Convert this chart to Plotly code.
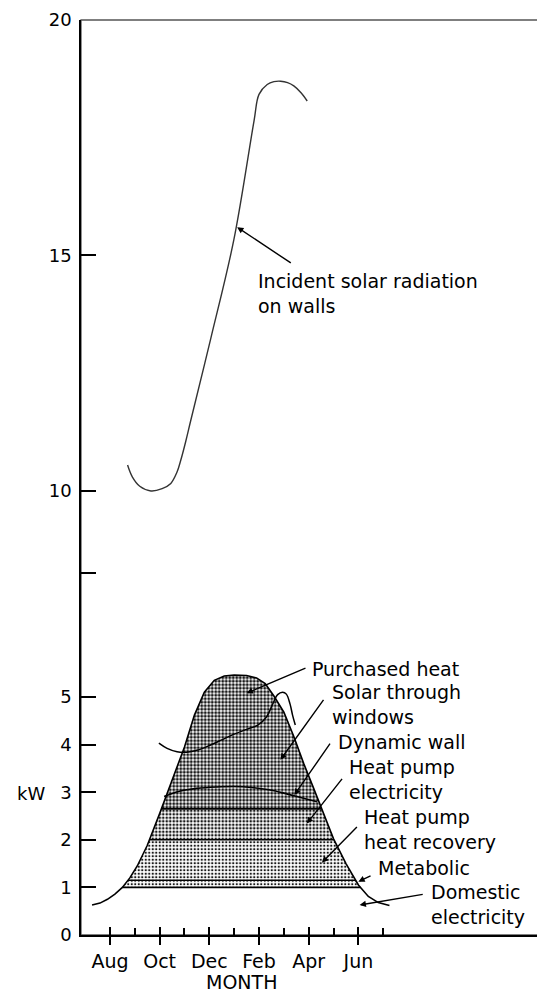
import numpy as np
import plotly.graph_objects as go

# ---------------- data (month index: Aug = 0, Sep = 1, ... Jul = 11) ----------------
month_ticks = [0, 2, 4, 6, 8, 10]
month_labels = ["Aug", "Oct", "Dec", "Feb", "Apr", "Jun"]
minor_month_ticks = [1, 3, 5, 7, 9, 11]

# total heat demand envelope (kW)
env_m = [-0.72, -0.4, -0.1, 0.2, 0.5, 0.8, 1.1, 1.5, 2.0, 2.5, 3.0, 3.4, 3.8, 4.2, 4.6,
         5.0, 5.5, 5.9, 6.25, 6.6, 7.0, 7.4, 7.8, 8.2, 8.6, 9.0, 9.5, 10.0, 10.4, 10.8, 11.25]
env_kw = [0.63, 0.67, 0.75, 0.86, 1.0, 1.2, 1.45, 1.88, 2.55, 3.24, 3.95, 4.62, 5.1, 5.35, 5.44,
          5.46, 5.45, 5.40, 5.28, 5.02, 4.68, 4.17, 3.6, 3.08, 2.55, 2.02, 1.5, 1.05, 0.81, 0.68, 0.62]

# contribution levels (kW): domestic electricity top, metabolic top, HP heat recovery top, HP electricity top
band_levels = [1.0, 1.15, 2.0, 2.65]

# dynamic wall contribution top
dyn_m = [2.18, 2.8, 3.5, 4.3, 5.0, 5.7, 6.4, 7.0, 7.6, 8.33]
dyn_kw = [2.91, 3.02, 3.08, 3.11, 3.12, 3.10, 3.05, 2.98, 2.90, 2.80]

# solar through windows top (purchased heat above)
win_m = [1.97, 2.3, 2.7, 3.1, 3.5, 4.0, 4.5, 5.0, 5.5, 5.95, 6.3, 6.55, 6.75, 6.95, 7.1, 7.25, 7.35, 7.46]
win_kw = [4.03, 3.92, 3.85, 3.84, 3.88, 3.98, 4.1, 4.22, 4.32, 4.41, 4.58, 4.85, 5.05, 5.1, 5.06, 4.85, 4.62, 4.41]

# incident solar radiation on walls (kW)
sol_m = [0.71, 0.9, 1.2, 1.65, 2.1, 2.45, 2.7, 2.85, 3.05, 3.25, 4.06, 4.99, 5.8, 6.0, 6.33, 6.6,
         6.87, 7.15, 7.4, 7.7, 7.94]
sol_kw = [10.55, 10.3, 10.1, 10.0, 10.05, 10.16, 10.4, 10.65, 11.05, 11.49, 13.24, 15.34, 17.86,
          18.42, 18.63, 18.69, 18.70, 18.67, 18.6, 18.45, 18.28]

FONT = "DejaVu Sans"
INK = "#000000"

# ---------------- helpers ----------------
def refine(xs, ys, levels):
    """insert the crossing points of the polyline with the given horizontal levels"""
    out_x, out_y = [], []
    for i in range(len(xs) - 1):
        x0, y0, x1, y1 = xs[i], ys[i], xs[i + 1], ys[i + 1]
        out_x.append(x0); out_y.append(y0)
        cr = []
        for L in levels:
            if (y0 - L) * (y1 - L) < 0:
                t = (L - y0) / (y1 - y0)
                cr.append((t, x0 + t * (x1 - x0), L))
        for c in sorted(cr):
            out_x.append(c[1]); out_y.append(c[2])
    out_x.append(xs[-1]); out_y.append(ys[-1])
    return np.array(out_x), np.array(out_y)

rx, ry = refine(env_m, env_kw, band_levels)

fig = go.Figure()

# stippled bands under the envelope
bands = list(zip(band_levels, band_levels[1:] + [99.0]))
solid = [0.3, 0.36, 0.46, 0.56]
for (a, b), s in zip(bands, solid):
    top = np.clip(ry, a, b)
    xs = np.concatenate([rx, rx[::-1]])
    ys = np.concatenate([top, np.full(len(rx), a)])
    fig.add_trace(go.Scatter(
        x=xs, y=ys, mode="lines", fill="toself", line=dict(width=0),
        fillcolor="white",
        fillpattern=dict(shape=".", size=3.5, solidity=s, fgcolor="#1a1a1a", bgcolor="white"),
        hoverinfo="skip", showlegend=False))

# horizontal level lines inside the envelope
for L in band_levels:
    inside = rx[ry >= L - 1e-9]
    fig.add_trace(go.Scatter(x=[inside.min(), inside.max()], y=[L, L], mode="lines",
                             line=dict(color=INK, width=1.6), hoverinfo="skip", showlegend=False))

# envelope
fig.add_trace(go.Scatter(x=env_m, y=env_kw, mode="lines", line=dict(color=INK, width=1.6),
                         hoverinfo="skip", showlegend=False))
# dynamic wall curve
fig.add_trace(go.Scatter(x=dyn_m, y=dyn_kw, mode="lines", line=dict(color=INK, width=1.6, shape="spline"),
                         hoverinfo="skip", showlegend=False))
# solar through windows curve
fig.add_trace(go.Scatter(x=win_m, y=win_kw, mode="lines", line=dict(color=INK, width=1.5, shape="spline"),
                         hoverinfo="skip", showlegend=False))
# incident solar radiation (upper axis)
fig.add_trace(go.Scatter(x=sol_m, y=sol_kw, yaxis="y2", mode="lines",
                         line=dict(color="#333333", width=1.4, shape="spline"),
                         hoverinfo="skip", showlegend=False))
# helper for crossing major ticks
fig.add_trace(go.Scatter(x=[None], y=[None], xaxis="x2", mode="lines", showlegend=False, hoverinfo="skip"))

# ---------------- annotations ----------------
labels = [  # text, x (month), y (kW), axis
    ("Incident solar radiation<br>on walls", 5.9, 14.19, "y2"),
    ("Purchased heat", 8.11, 5.59, "y"),
    ("Solar through<br>windows", 8.88, 4.84, "y"),
    ("Dynamic wall", 9.12, 4.06, "y"),
    ("Heat pump<br>electricity", 9.6, 3.27, "y"),
    ("Heat pump<br>heat recovery", 10.2, 2.22, "y"),
    ("Metabolic", 10.76, 1.40, "y"),
    ("Domestic<br>electricity", 12.89, 0.64, "y"),
]
arrows = [  # head x, head y, tail x, tail y, axis
    (5.12, 15.6, 7.34, 14.82, "y2"),
    (5.5, 5.08, 7.93, 5.62, "y"),
    (6.86, 3.68, 8.64, 4.97, "y"),
    (7.42, 2.94, 8.9, 4.05, "y"),
    (7.92, 2.34, 9.39, 3.31, "y"),
    (8.53, 1.52, 10.0, 2.3, "y"),
    (10.0, 1.12, 10.55, 1.26, "y"),
    (10.05, 0.63, 12.65, 0.86, "y"),
]

annotations = []
for t, x, y, ax in labels:
    annotations.append(dict(text=t, x=x, y=y, xref="x", yref=ax, xanchor="left", yanchor="middle",
                            align="left", showarrow=False, borderpad=0,
                            font=dict(family=FONT, size=19, color=INK)))
for hx, hy, tx, ty, ax in arrows:
    annotations.append(dict(text="", x=hx, y=hy, ax=tx, ay=ty, xref="x", yref=ax, axref="x", ayref=ax,
                            showarrow=True, arrowhead=2, arrowsize=0.9, arrowwidth=1.4, arrowcolor=INK,
                            standoff=0, startstandoff=0))
annotations.append(dict(text="MONTH", x=5.3, y=-0.0513, xref="x", yref="paper", xanchor="center",
                        yanchor="middle", showarrow=False, borderpad=0,
                        font=dict(family=FONT, size=19, color=INK)))
annotations.append(dict(text="kW", x=-0.108, y=2.97, xref="paper", yref="y", xanchor="center",
                        yanchor="middle", showarrow=False, borderpad=0,
                        font=dict(family=FONT, size=18, color=INK)))

# ---------------- layout ----------------
# the page body keeps its default 8 px margin, so the figure is 8 px smaller than the window
H, W = 987, 537
mt, mb, ml, mr = 12, 60, 73, 4
brk = 0.3443
low_top = 6.618
up_bottom = 7.26
blank_tick = 8.26

axis_common = dict(showgrid=False, zeroline=False, showline=True, linecolor="black", linewidth=1.5,
                   tickcolor="black", tickwidth=1.5)

fig.update_layout(
    width=W, height=H, template="none",
    margin=dict(t=mt, b=mb, l=ml, r=mr, autoexpand=False),
    paper_bgcolor="white", plot_bgcolor="white",
    showlegend=False,
    xaxis=dict(range=[-1.165, 17.35], anchor="y", tickmode="array", tickvals=month_ticks,
               ticktext=month_labels, ticks="outside", ticklen=8,
               tickfont=dict(family=FONT, size=19, color=INK),
               minor=dict(tickmode="array", tickvals=minor_month_ticks, ticks="inside", ticklen=7,
                          tickwidth=1.5, tickcolor="black", showgrid=False),
               **axis_common),
    xaxis2=dict(range=[-1.165, 17.35], overlaying="x", anchor="y", side="bottom", tickmode="array",
                tickvals=month_ticks, ticks="inside", ticklen=8, tickwidth=1.5, tickcolor="black",
                showticklabels=False, showline=False, showgrid=False, zeroline=False),
    yaxis=dict(domain=[0, brk], range=[0, low_top], anchor="x", tickmode="array",
               tickvals=[0, 1, 2, 3, 4, 5], ticktext=["0", "1", "2", "3", "4", "5"],
               ticks="inside", ticklen=15, ticklabelstandoff=4, ticklabeloverflow="allow",
               tickfont=dict(family=FONT, size=18, color=INK), **axis_common),
    yaxis2=dict(domain=[brk, 1], range=[up_bottom, 20], anchor="x", tickmode="array",
                tickvals=[blank_tick, 10, 15, 20], ticktext=["", "10", "15", "20"],
                ticks="inside", ticklen=15, ticklabelstandoff=4, ticklabeloverflow="allow",
                tickfont=dict(family=FONT, size=18, color=INK), **axis_common),
    annotations=annotations,
    shapes=[dict(type="rect", xref="paper", yref="paper", x0=0, x1=1, y0=0, y1=1,
                 line=dict(color="#555555", width=1.3), layer="below")],
)

fig.write_html("out.html")
